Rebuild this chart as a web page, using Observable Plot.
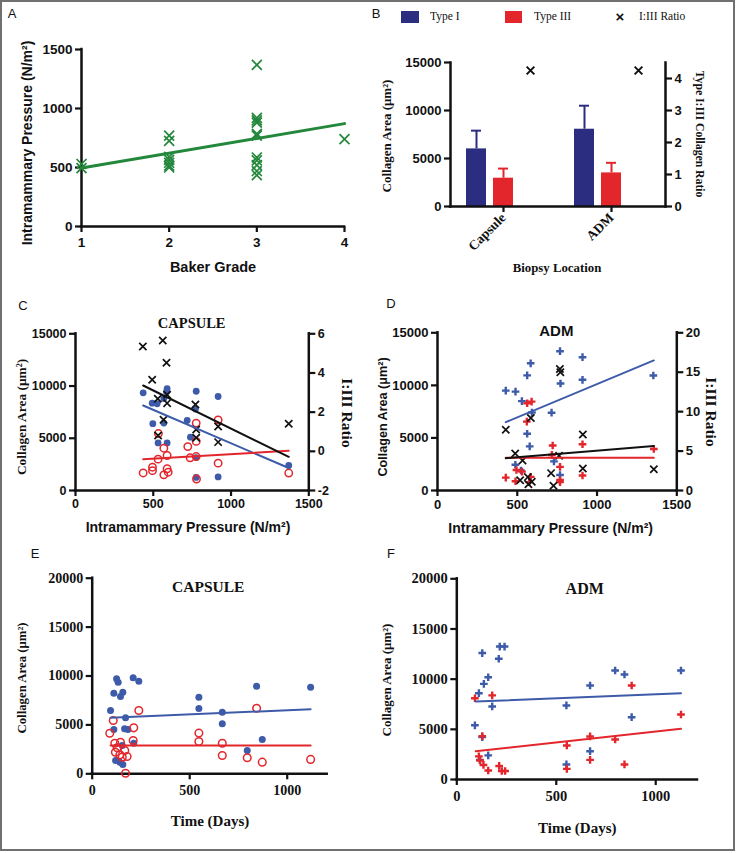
<!DOCTYPE html>
<html><head><meta charset="utf-8">
<script src="https://cdn.jsdelivr.net/npm/d3@7"></script>
<script src="https://cdn.jsdelivr.net/npm/@observablehq/plot@0.6"></script>
<style>
body{margin:0;background:#fff;}
#page{position:relative;width:736px;height:853px;overflow:hidden;background:#fff;}
.lbl{position:absolute;white-space:nowrap;color:#111;line-height:1;}
#border{position:absolute;left:0;top:0;width:735px;height:851px;box-sizing:border-box;border:2px solid #707070;pointer-events:none;z-index:10;}
</style></head><body><div id="page"></div>
<script>
// ---------- DATA ----------
// Panel A: Baker grade vs intramammary pressure
const gradeA    = [1,1, 2,2,2,2,2,2,2, 3,3,3,3,3,3,3,3,3,3,3, 4];
const pressureA = [530,495, 770,725,590,565,540,515,500, 1370,920,900,880,785,770,585,560,520,470,435, 740];
const fitAGrade = [1,4];
const fitAPressure = [495,872];

// Panel B: mean collagen area by biopsy location
const locations = ["Capsule","ADM"];
const type1Mean = [6000,8050];
const type1SD   = [1900,2450];
const type3Mean = [2950,3500];
const type3SD   = [1000,1050];
const ratioB    = [4.25,4.25];
const ratioTicksB = [0,1,2,3,4];

// Panel C: capsule collagen vs pressure
const capBlueP = [435,493,525,568,585,589,497,568,531,589,718,771,776,739,776,776,917,917,1371];
const capBlueC = [9350,8360,8300,8800,9450,9750,6400,6450,4550,4550,6700,7800,9500,5100,3150,1250,9000,1300,2400];
const capRedP  = [435,495,495,533,531,568,589,589,596,568,722,737,776,776,776,778,917,917,1371];
const capRedC  = [1680,2230,1900,5450,3000,4050,3350,2080,1750,1500,4200,3130,6450,4700,3250,1100,6750,2620,1670];
const capRatioP = [433,561,585,493,529,589,589,566,531,771,776,776,917,917,1371];
const capRatio  = [5.35,5.66,4.52,3.65,2.68,2.89,2.46,1.61,0.81,2.39,1.11,0.69,1.27,0.47,1.41];
const capFitP = [435,1371];
const capFitBlue = [8140,2150];
const capFitRed  = [3000,3800];
const capFitRatio = [3.36,-0.28];
const ratioTicksC = [-2,0,2,4,6];

// Panel D: ADM collagen vs pressure
const admBlueP = [428,489,529,562,584,768,909,771,909,1353,592,715,562,578,730,768,488,523];
const admBlueC = [9500,9400,8500,10950,12100,13250,12680,10180,10530,10940,7420,7400,5400,4200,2770,1470,2450,1900];
const admRedP  = [428,489,495,530,562,590,560,717,722,768,768,768,909,909,1356,584,575];
const admRedC  = [1220,880,1950,1800,8300,8450,6550,3380,4280,2250,1000,800,4400,1430,3950,1300,800];
const admRatioP = [428,487,533,518,566,570,591,585,767,770,762,712,727,911,911,1356];
const admRatio  = [7.7,4.7,3.8,1.3,1.7,0.8,1.1,9.2,15.4,15.0,4.4,2.2,0.6,7.1,2.8,2.7];
const admFitP = [428,1356];
const admFitBlue = [6500,12370];
const admFitRed  = [3120,3120];
const admFitRatio = [4.1,5.65];
const ratioTicksD = [0,5,10,15,20];

// Panel E: capsule collagen vs time
const eBlueT = [94,111,125,133,111,145,157,171,166,183,120,142,157,154,210,239,213,547,547,667,667,795,843,872,1120];
const eBlueC = [6470,8240,9710,9370,4530,7900,8340,5720,4600,4530,1360,1190,950,2900,9810,9470,3130,7830,6680,6300,5110,2385,8960,3510,8860];
const eRedT  = [90,108,116,145,128,119,142,167,179,154,171,213,210,239,547,547,667,667,795,843,872,1120];
const eRedC  = [4150,5450,3130,3230,2660,2210,1940,2380,1770,1700,60,4700,3400,6470,4160,3300,3130,1870,1640,6710,1190,1470];
const eFitT = [94,1120];
const eFitBlue = [5720,6600];
const eFitRed  = [2900,2900];

// Panel F: ADM collagen vs time
const fBlueT = [91,111,128,136,158,178,211,216,240,128,158,116,551,551,670,670,796,843,879,1127];
const fBlueC = [5400,8600,12600,9530,10190,7280,12030,13250,13250,4220,2400,1960,7380,1500,9370,2820,10860,10460,6210,10860];
const fRedT  = [91,178,128,111,117,134,158,213,226,243,553,553,670,670,796,843,879,1127];
const fRedC  = [8100,8380,4320,2300,1900,1450,900,1350,850,850,3390,1060,4290,1960,3990,1500,9370,6480];
const fFitT = [95,1127];
const fFitBlue = [7770,8600];
const fFitRed  = [2820,5050];

// ---------- STYLE ----------
const SANS = "'Liberation Sans', Arial, sans-serif";
const SERIF = "'Liberation Serif', 'Times New Roman', serif";
const BLUE = "#3d5ba8", RED = "#e3262c", NAVY = "#2b2d80", GREEN = "#23873c", BLACK = "#111";
const page = document.getElementById("page");

function label(text, x, y, o = {}) {
  const d = document.createElement("div");
  d.className = "lbl";
  d.textContent = text;
  d.style.left = x + "px"; d.style.top = y + "px";
  d.style.fontFamily = o.family || SANS;
  d.style.fontSize = (o.size || 12) + "px";
  d.style.fontWeight = o.weight || "bold";
  const tx = o.anchor === "start" ? "0" : "-50%";
  d.style.transform = `translate(${tx},-50%) rotate(${o.rotate || 0}deg)`;
  page.appendChild(d);
  return d;
}
function box(x, y, w, h, color) {
  const d = document.createElement("div");
  Object.assign(d.style, {position: "absolute", left: x + "px", top: y + "px", width: w + "px", height: h + "px", background: color});
  page.appendChild(d);
}
function panel(left, top, w, h, m, opts) {
  const svg = Plot.plot({
    width: w, height: h,
    marginTop: m[0], marginRight: m[1], marginBottom: m[2], marginLeft: m[3],
    style: {background: "transparent", fontFamily: SANS, fontWeight: "bold", fontSize: "12px", overflow: "visible", color: BLACK},
    ...opts
  });
  svg.style.position = "absolute";
  svg.style.left = left + "px";
  svg.style.top = top + "px";
  page.appendChild(svg);
}
const axo = (fam, size, extra = {}) => ({tickSize: 6, tickPadding: 3, fontSize: size, fontFamily: fam, fontWeight: "bold", strokeWidth: 2.2, tickFormat: "d", label: null, ...extra});
const AXW = 2.5;
const zip = (xs, ys) => xs.map((x, i) => ({x, y: ys[i]}));

// ---------- PANEL A ----------
panel(0, 0, 368, 280, [49, 24, 54, 81], {
  x: {domain: [1, 4]}, y: {domain: [0, 1500]},
  marks: [
    Plot.ruleY([0], {strokeWidth: AXW, strokeLinecap: "square"}),
    Plot.ruleX([1], {strokeWidth: AXW, strokeLinecap: "square"}),
    Plot.axisY(axo(SANS, 13.5, {ticks: [0, 500, 1000, 1500]})),
    Plot.axisX(axo(SANS, 13.5, {ticks: [1, 2, 3, 4], tickPadding: 5})),
    Plot.dot(zip(gradeA, pressureA), {x: "x", y: "y", symbol: "times", r: 4.6, stroke: GREEN, strokeWidth: 1.7}),
    Plot.line(zip(fitAGrade, fitAPressure), {x: "x", y: "y", stroke: GREEN, strokeWidth: 3})
  ]
});
label("A", 12, 13, {size: 13, weight: "normal"});
label("Intramammary Pressure (N/m²)", 27, 143, {size: 14, rotate: -90});
label("Baker Grade", 213, 267, {size: 14.5});

// ---------- PANEL B ----------
const RB = 15000 / 4.5;
const barRows1 = locations.map((l, i) => ({key: l + " Type I", v: type1Mean[i], top: type1Mean[i] + type1SD[i]}));
const barRows3 = locations.map((l, i) => ({key: l + " Type III", v: type3Mean[i], top: type3Mean[i] + type3SD[i]}));
const ratioRowsB = locations.map((l, i) => ({key: l + " Ratio", v: ratioB[i] * RB}));
const bDomain = [locations[0] + " Type I", locations[0] + " Type III", locations[0] + " Ratio", "", locations[1] + " Type I", locations[1] + " Type III", locations[1] + " Ratio"];
panel(368, 0, 368, 280, [62, 71, 74, 82], {
  x: {type: "band", domain: bDomain, paddingInner: 0.25, paddingOuter: 0.494},
  y: {domain: [0, 15000]},
  marks: [
    Plot.ruleX(barRows1, {x: "key", y1: "v", y2: "top", stroke: NAVY, strokeWidth: 2}),
    Plot.tickY(barRows1, {x: "key", y: "top", stroke: NAVY, strokeWidth: 2, insetLeft: 5, insetRight: 5}),
    Plot.ruleX(barRows3, {x: "key", y1: "v", y2: "top", stroke: RED, strokeWidth: 2}),
    Plot.tickY(barRows3, {x: "key", y: "top", stroke: RED, strokeWidth: 2, insetLeft: 5, insetRight: 5}),
    Plot.barY(barRows1, {x: "key", y: "v", fill: NAVY}),
    Plot.barY(barRows3, {x: "key", y: "v", fill: RED}),
    Plot.dot(ratioRowsB, {x: "key", y: "v", symbol: "times", r: 3.6, stroke: BLACK, strokeWidth: 2}),
    Plot.frame({anchor: "left", strokeWidth: AXW}),
    Plot.frame({anchor: "right", strokeWidth: AXW}),
    Plot.ruleY([0], {strokeWidth: AXW, strokeLinecap: "square"}),
    Plot.axisY(axo(SANS, 13, {ticks: [0, 5000, 10000, 15000]})),
    Plot.axisY(ratioTicksB.map(r => r * RB), axo(SANS, 13, {anchor: "right", tickFormat: d => Math.round(d / RB)})),
    Plot.axisX(locations.map(l => l + " Type III"), {tickRotate: -45, tickFormat: d => d.split(" ")[0], fontFamily: SERIF, fontWeight: "bold", fontSize: 13.5, tickSize: 6, tickPadding: 3, strokeWidth: 2.2, label: null})
  ]
});
label("B", 376, 13, {size: 13, weight: "normal"});
box(401, 11, 18, 12, NAVY);
label("Type I", 430, 17, {family: SERIF, size: 11.5, weight: "normal", anchor: "start"});
box(505, 11, 17, 12, RED);
label("Type III", 534, 17, {family: SERIF, size: 11.5, weight: "normal", anchor: "start"});
label("×", 620, 16, {size: 15, weight: "bold"});
label("I:III Ratio", 639, 17, {family: SERIF, size: 11.5, weight: "normal", anchor: "start"});
label("Collagen Area (μm²)", 386, 136, {family: SERIF, size: 13, rotate: -90});
label("Type I:III Collagen Ratio", 699, 134, {family: SERIF, size: 11.7, rotate: 90});
label("Biopsy Location", 557, 268, {family: SERIF, size: 12.8});

// ---------- PANEL C ----------
const RC = r => (r + 2) * 1875;
panel(0, 280, 368, 280, [53.3, 59.7, 70, 75], {
  x: {domain: [0, 1500]}, y: {domain: [0, 15000]},
  marks: [
    Plot.ruleY([0], {strokeWidth: AXW, strokeLinecap: "square"}),
    Plot.ruleX([0], {strokeWidth: AXW, strokeLinecap: "square"}),
    Plot.ruleX([1500], {strokeWidth: AXW, strokeLinecap: "square"}),
    Plot.axisY(axo(SANS, 12.5, {ticks: [0, 5000, 10000, 15000]})),
    Plot.axisY(ratioTicksC.map(RC), axo(SANS, 12.5, {anchor: "right", tickFormat: d => Math.round(d / 1875 - 2)})),
    Plot.axisX(axo(SANS, 12.5, {ticks: [0, 500, 1000, 1500]})),
    Plot.dot(zip(capBlueP, capBlueC), {x: "x", y: "y", r: 3.4, fill: BLUE}),
    Plot.dot(zip(capRedP, capRedC), {x: "x", y: "y", r: 3.7, stroke: RED, strokeWidth: 1.5, fill: "none"}),
    Plot.dot(zip(capRatioP, capRatio), {x: "x", y: d => RC(d.y), symbol: "times", r: 3.4, stroke: BLACK, strokeWidth: 1.7}),
    Plot.line(zip(capFitP, capFitBlue), {x: "x", y: "y", stroke: BLUE, strokeWidth: 2}),
    Plot.line(zip(capFitP, capFitRed), {x: "x", y: "y", stroke: RED, strokeWidth: 2}),
    Plot.line(zip(capFitP, capFitRatio), {x: "x", y: d => RC(d.y), stroke: BLACK, strokeWidth: 2})
  ]
});
label("C", 23, 305, {size: 13, weight: "normal"});
label("CAPSULE", 191.7, 323, {family: SERIF, size: 14.5});
label("Collagen Area (μm²)", 21.7, 416.7, {family: SERIF, size: 13.4, rotate: -90});
label("I:III Ratio", 346.7, 412.5, {family: SERIF, size: 15.5, rotate: 90});
label("Intramammary Pressure (N/m²)", 188, 527, {size: 14});

// ---------- PANEL D ----------
const RD = r => r * 750;
panel(368, 280, 368, 280, [52.3, 59.7, 70, 69], {
  x: {domain: [0, 1500]}, y: {domain: [0, 15000]},
  marks: [
    Plot.ruleY([0], {strokeWidth: AXW, strokeLinecap: "square"}),
    Plot.ruleX([0], {strokeWidth: AXW, strokeLinecap: "square"}),
    Plot.ruleX([1500], {strokeWidth: AXW, strokeLinecap: "square"}),
    Plot.axisY(axo(SANS, 13, {ticks: [0, 5000, 10000, 15000]})),
    Plot.axisY(ratioTicksD.map(RD), axo(SANS, 13, {anchor: "right", tickFormat: d => Math.round(d / 750)})),
    Plot.axisX(axo(SANS, 13, {ticks: [0, 500, 1000, 1500]})),
    Plot.dot(zip(admBlueP, admBlueC), {x: "x", y: "y", symbol: "plus", r: 2.6, stroke: BLUE, strokeWidth: 2.4}),
    Plot.dot(zip(admRedP, admRedC), {x: "x", y: "y", symbol: "plus", r: 2.6, stroke: RED, strokeWidth: 2.4}),
    Plot.dot(zip(admRatioP, admRatio), {x: "x", y: d => RD(d.y), symbol: "times", r: 3.4, stroke: BLACK, strokeWidth: 1.7}),
    Plot.line(zip(admFitP, admFitBlue), {x: "x", y: "y", stroke: BLUE, strokeWidth: 2}),
    Plot.line(zip(admFitP, admFitRed), {x: "x", y: "y", stroke: RED, strokeWidth: 2}),
    Plot.line(zip(admFitP, admFitRatio), {x: "x", y: d => RD(d.y), stroke: BLACK, strokeWidth: 2})
  ]
});
label("D", 391, 303, {size: 13, weight: "normal"});
label("ADM", 556.3, 330, {size: 15});
label("Collagen Area (μm²)", 383, 416.7, {size: 12.6, rotate: -90});
label("I:III Ratio", 711.3, 412, {family: SERIF, size: 15.5, rotate: 90});
label("Intramammary Pressure (N/m²)", 550.7, 528, {size: 14});

// ---------- PANEL E ----------
panel(0, 560, 368, 293, [17.7, 41.3, 79.7, 91.7], {
  x: {domain: [0, 1205]}, y: {domain: [0, 20000]},
  marks: [
    Plot.ruleY([0], {strokeWidth: AXW, strokeLinecap: "square"}),
    Plot.ruleX([0], {strokeWidth: AXW, strokeLinecap: "square"}),
    Plot.axisY(axo(SERIF, 14, {ticks: [0, 5000, 10000, 15000, 20000]})),
    Plot.axisX(axo(SERIF, 14, {ticks: [0, 500, 1000], tickPadding: 5})),
    Plot.dot(zip(eBlueT, eBlueC), {x: "x", y: "y", r: 3.5, fill: BLUE}),
    Plot.dot(zip(eRedT, eRedC), {x: "x", y: "y", r: 3.8, stroke: RED, strokeWidth: 1.5, fill: "none"}),
    Plot.line(zip(eFitT, eFitBlue), {x: "x", y: "y", stroke: BLUE, strokeWidth: 2}),
    Plot.line(zip(eFitT, eFitRed), {x: "x", y: "y", stroke: RED, strokeWidth: 2})
  ]
});
label("E", 35, 553, {size: 13, weight: "normal"});
label("CAPSULE", 208.3, 587.3, {family: SERIF, size: 15.5});
label("Collagen Area (μm²)", 21.7, 677.5, {family: SERIF, size: 12.8, rotate: -90});
label("Time (Days)", 210, 821, {family: SERIF, size: 15});

// ---------- PANEL F ----------
panel(368, 560, 368, 293, [18.3, 39, 74, 88.3], {
  x: {domain: [0, 1210]}, y: {domain: [0, 20000]},
  marks: [
    Plot.ruleY([0], {strokeWidth: AXW, strokeLinecap: "square"}),
    Plot.ruleX([0], {strokeWidth: AXW, strokeLinecap: "square"}),
    Plot.axisY(axo(SERIF, 14.5, {ticks: [0, 5000, 10000, 15000, 20000]})),
    Plot.axisX(axo(SERIF, 14.5, {ticks: [0, 500, 1000], tickPadding: 5})),
    Plot.dot(zip(fBlueT, fBlueC), {x: "x", y: "y", symbol: "plus", r: 2.6, stroke: BLUE, strokeWidth: 2.4}),
    Plot.dot(zip(fRedT, fRedC), {x: "x", y: "y", symbol: "plus", r: 2.6, stroke: RED, strokeWidth: 2.4}),
    Plot.line(zip(fFitT, fFitBlue), {x: "x", y: "y", stroke: BLUE, strokeWidth: 2}),
    Plot.line(zip(fFitT, fFitRed), {x: "x", y: "y", stroke: RED, strokeWidth: 2})
  ]
});
label("F", 391, 553, {size: 13, weight: "normal"});
label("ADM", 584.7, 589, {family: SERIF, size: 16});
label("Collagen Area (μm²)", 386.3, 680, {family: SERIF, size: 13, rotate: -90});
label("Time (Days)", 577.3, 828, {family: SERIF, size: 15});

const border = document.createElement("div");
border.id = "border";
page.appendChild(border);
</script></body></html>
